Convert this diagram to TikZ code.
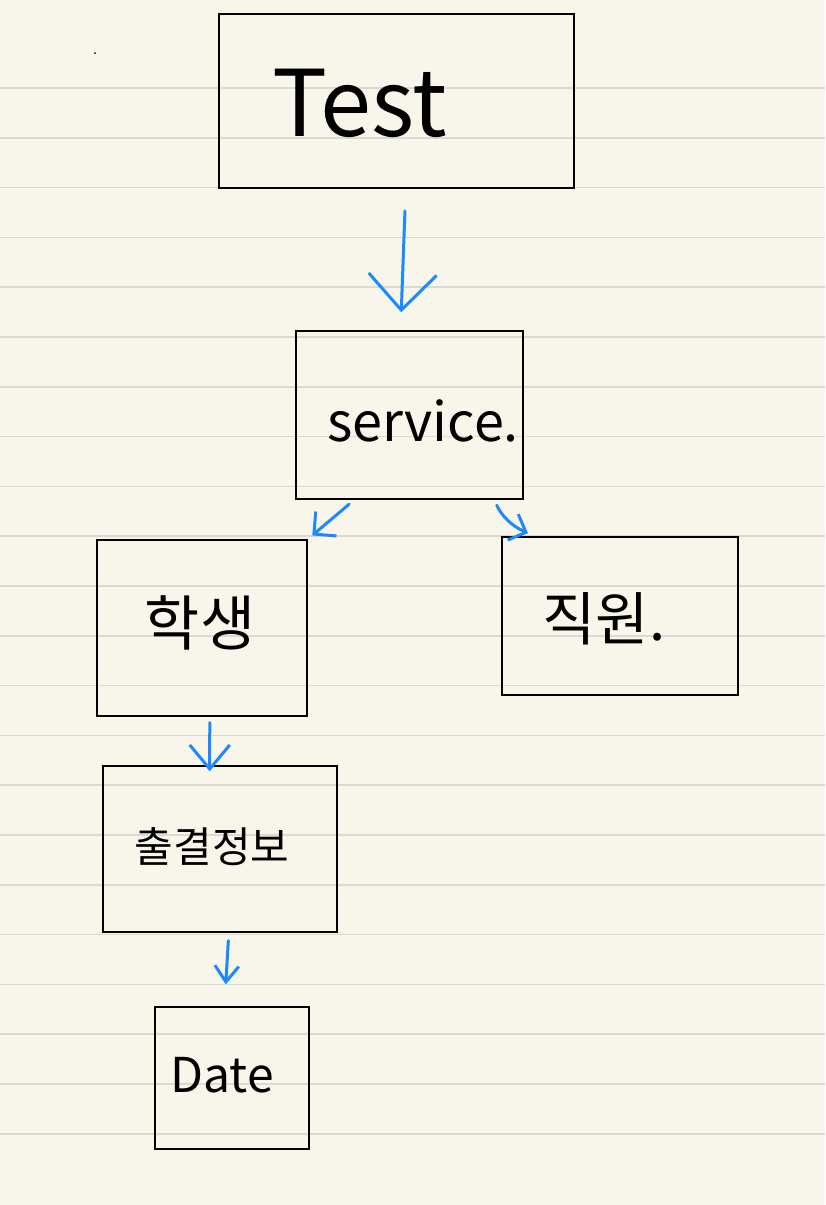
\documentclass[tikz,border=0pt]{standalone}
\usepackage{fontspec}
\setmainfont{Noto Sans CJK KR}
\usepackage{tikz}
\usetikzlibrary{arrows.meta,bending}
\definecolor{paper}{HTML}{F8F6EA}
\definecolor{rule}{HTML}{D9D9D6}
\definecolor{pen}{HTML}{1E88FF}
\tikzset{
    box/.style = {draw, line width=0.7pt, inner sep=0pt},
    pencil/.style = {draw=pen, line width=1.5pt, line cap=round, line join=round},
}

\begin{document}
\begin{tikzpicture}[x=0.5pt, y=-0.5pt]
        % paper
        \fill[paper] (0,0) rectangle (825,1205);
        \useasboundingbox (0,0) rectangle (825,1205);
        \foreach \i in {0,...,21}
            \draw[rule, line width=0.8pt] (0,{88+49.8*\i}) -- (825,{88+49.8*\i});
        \fill (95,53) circle[radius=1];

        \coordinate (test) at (396.5,101);
        \coordinate (service) at (409.5,415);
        \coordinate (hak) at (202,628);
        \coordinate (jik) at (620,616);
        \coordinate (chul) at (220,849);
        \coordinate (date) at (232,1078);

        \node[box, line width=1pt, minimum width = 177.5pt, minimum height = 87pt] (Test) at (test) {};
        \node[box, minimum width = 113.5pt, minimum height = 84pt] (Service) at (service) {};
        \node[box, minimum width = 105pt, minimum height = 88pt] (Hak) at (hak) {};
        \node[box, minimum width = 118pt, minimum height = 79pt] (Jik) at (jik) {};
        \node[box, minimum width = 117pt, minimum height = 83pt] (Chul) at (chul) {};
        \node[box, minimum width = 77pt, minimum height = 71pt] (Date) at (date) {};

        \node[font=\fontsize{46}{54}\selectfont] (Test_t) at (360,103) {Test};
        \node[font=\fontsize{27}{32}\selectfont] (Service_t) at (423,421) {service.};
        \node[font=\fontsize{30}{36}\selectfont] (Hak_t) at (200,623) {학생};
        \node[font=\fontsize{29}{34}\selectfont] (Jik_t) at (604,619) {직원.};
        \node[font=\fontsize{21}{25}\selectfont] (Chul_t) at (212,847) {출결정보};
        \node[font=\fontsize{24}{28}\selectfont] (Date_t) at (222,1075) {Date};

        \path[pencil, -{Straight Barb[length=18pt, width=34pt, line width=1.5pt]}, shorten <=11pt, shorten >=9pt] (Test.-84) -- (Service.96);
        \path[pencil, -{Straight Barb[length=8pt, width=16pt, line width=1.5pt]}, shorten <=3.5pt, shorten >=3pt] (Service.-123) -- (Hak.40);
        \path[pencil, -{Straight Barb[length=7pt, width=14pt, line width=1.5pt]}, shorten <=3pt, shorten >=5pt] (Service.-45) to[bend right=25] (Jik.136);
        \path[pencil, -{Straight Barb[length=12pt, width=20pt, line width=1.5pt]}, shorten <=3pt, shorten >=-3pt] (Hak.-85) -- (Chul.97);
        \path[pencil, -{Straight Barb[length=8pt, width=12pt, line width=1.5pt]}, shorten <=4pt, shorten >=11pt] (Chul.-84) -- (Date.96);
    \end{tikzpicture}
\end{document}
